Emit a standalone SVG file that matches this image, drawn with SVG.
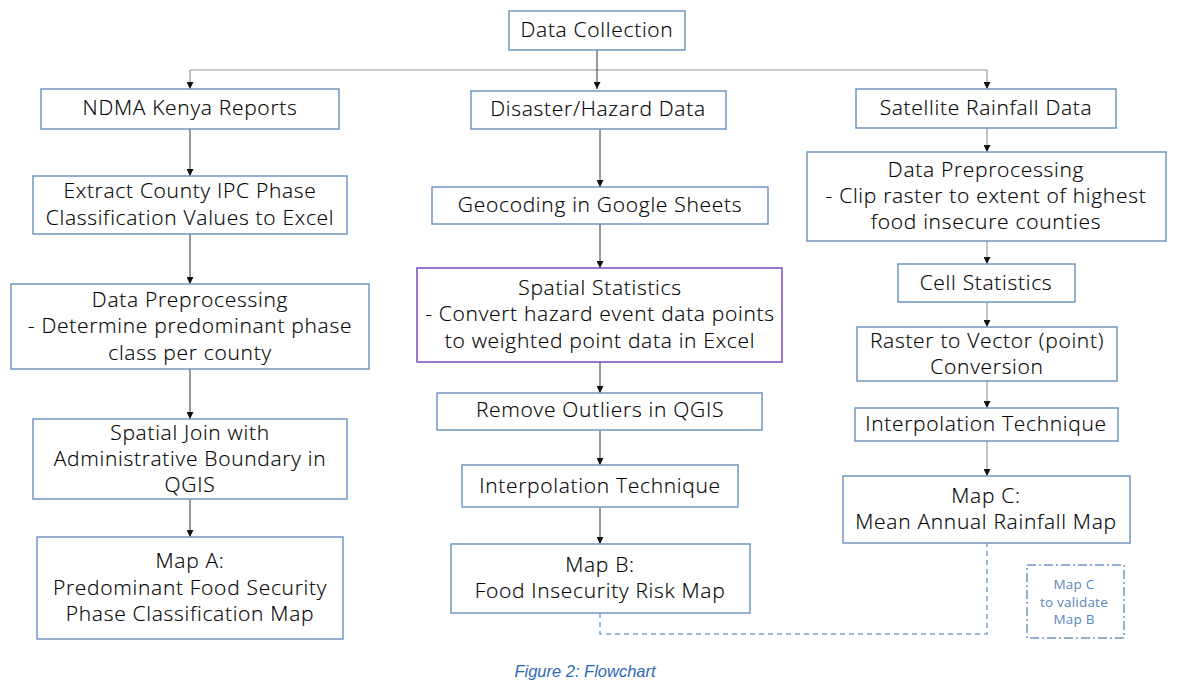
<svg xmlns="http://www.w3.org/2000/svg" width="1178" height="697" viewBox="0 0 1178 697">
<style>
.box{fill:#fff;stroke:#7097c2;stroke-width:1.5}
.pbox{fill:#fff;stroke:#7a4cc4;stroke-width:1.5}
.t{font-family:"Open Sans",Lato,"Liberation Sans",sans-serif;font-weight:300;font-size:21px;letter-spacing:0.7px;fill:#000;stroke:#000;stroke-width:0.15px;text-anchor:middle}
.c{fill:none;stroke:#333;stroke-width:1}
.cg{fill:none;stroke:#999;stroke-width:1.2}
.dash{fill:none;stroke:#7aa6d6;stroke-width:1.5;stroke-dasharray:5,4}
</style>
<defs>
<marker id="ah" viewBox="0 0 10 10" refX="10" refY="5" markerWidth="7" markerHeight="7" markerUnits="userSpaceOnUse" orient="auto">
<path d="M0,0 L10,5 L0,10 z" fill="#111"/>
</marker>
</defs>
<rect width="1178" height="697" fill="#fff"/>
<g id="connectors">
<line class="cg" x1="190" y1="70" x2="987" y2="70"/>
<line class="c" x1="597" y1="50" x2="597" y2="89" marker-end="url(#ah)"/>
<line class="cg" x1="190" y1="70" x2="190" y2="89" marker-end="url(#ah)"/>
<line class="cg" x1="987" y1="70" x2="987" y2="89" marker-end="url(#ah)"/>
<line class="c" x1="190" y1="129" x2="190" y2="176" marker-end="url(#ah)"/>
<line class="c" x1="190" y1="234" x2="190" y2="284" marker-end="url(#ah)"/>
<line class="c" x1="190" y1="369" x2="190" y2="419" marker-end="url(#ah)"/>
<line class="c" x1="190" y1="499" x2="190" y2="537" marker-end="url(#ah)"/>
<line class="c" x1="600" y1="129" x2="600" y2="187" marker-end="url(#ah)"/>
<line class="c" x1="600" y1="224" x2="600" y2="268" marker-end="url(#ah)"/>
<line class="c" x1="600" y1="362" x2="600" y2="393" marker-end="url(#ah)"/>
<line class="c" x1="600" y1="430" x2="600" y2="465" marker-end="url(#ah)"/>
<line class="c" x1="600" y1="507" x2="600" y2="544" marker-end="url(#ah)"/>
<line class="cg" x1="987" y1="128" x2="987" y2="152" marker-end="url(#ah)"/>
<line class="cg" x1="987" y1="241" x2="987" y2="264" marker-end="url(#ah)"/>
<line class="cg" x1="987" y1="302" x2="987" y2="327" marker-end="url(#ah)"/>
<line class="cg" x1="987" y1="381" x2="987" y2="408" marker-end="url(#ah)"/>
<line class="cg" x1="987" y1="441" x2="987" y2="476" marker-end="url(#ah)"/>
<path class="dash" d="M600,613 V634 H987 V543"/>
</g>
<g id="data-collection"><rect class="box" x="509" y="11" width="176" height="39"/><text class="t" x="597" y="37">Data Collection</text></g>
<g id="ndma"><rect class="box" x="41" y="89" width="298" height="40"/><text class="t" x="190" y="115">NDMA Kenya Reports</text></g>
<g id="extract"><rect class="box" x="33" y="176" width="314" height="58"/><text class="t" x="190" y="198">Extract County IPC Phase</text><text class="t" x="190" y="225">Classification Values to Excel</text></g>
<g id="prep-left"><rect class="box" x="11" y="284" width="358" height="85"/><text class="t" x="190" y="307">Data Preprocessing</text><text class="t" x="190" y="333">- Determine predominant phase</text><text class="t" x="190" y="360">class per county</text></g>
<g id="spatial-join"><rect class="box" x="33" y="419" width="314" height="80"/><text class="t" x="190" y="440">Spatial Join with</text><text class="t" x="190" y="466">Administrative Boundary in</text><text class="t" x="190" y="492">QGIS</text></g>
<g id="map-a"><rect class="box" x="37" y="537" width="306" height="102"/><text class="t" x="190" y="568">Map A:</text><text class="t" x="190" y="595">Predominant Food Security</text><text class="t" x="190" y="621">Phase Classification Map</text></g>
<g id="disaster"><rect class="box" x="471" y="91" width="255" height="38"/><text class="t" x="598" y="116">Disaster/Hazard Data</text></g>
<g id="geocoding"><rect class="box" x="432" y="187" width="336" height="37"/><text class="t" x="600" y="212">Geocoding in Google Sheets</text></g>
<g id="spatial-stats"><rect class="pbox" x="417" y="268" width="365" height="94"/><text class="t" x="600" y="295">Spatial Statistics</text><text class="t" x="600" y="321">- Convert hazard event data points</text><text class="t" x="600" y="348">to weighted point data in Excel</text></g>
<g id="outliers"><rect class="box" x="437" y="393" width="325" height="37"/><text class="t" x="600" y="417">Remove Outliers in QGIS</text></g>
<g id="interp-mid"><rect class="box" x="462" y="465" width="276" height="42"/><text class="t" x="600" y="493">Interpolation Technique</text></g>
<g id="map-b"><rect class="box" x="451" y="544" width="299" height="69"/><text class="t" x="600" y="572">Map B:</text><text class="t" x="600" y="598">Food Insecurity Risk Map</text></g>
<g id="satellite"><rect class="box" x="856" y="89" width="260" height="39"/><text class="t" x="986" y="115">Satellite Rainfall Data</text></g>
<g id="prep-right"><rect class="box" x="807" y="152" width="359" height="89"/><text class="t" x="986" y="177">Data Preprocessing</text><text class="t" x="986" y="203">- Clip raster to extent of highest</text><text class="t" x="986" y="229">food insecure counties</text></g>
<g id="cell-stats"><rect class="box" x="898" y="264" width="177" height="38"/><text class="t" x="986" y="290">Cell Statistics</text></g>
<g id="raster-vector"><rect class="box" x="857" y="327" width="260" height="54"/><text class="t" x="987" y="348">Raster to Vector (point)</text><text class="t" x="987" y="374">Conversion</text></g>
<g id="interp-right"><rect class="box" x="855" y="408" width="263" height="33"/><text class="t" x="986" y="431">Interpolation Technique</text></g>
<g id="map-c"><rect class="box" x="843" y="476" width="287" height="67"/><text class="t" x="986" y="503">Map C:</text><text class="t" x="986" y="529">Mean Annual Rainfall Map</text></g>
<g id="validate"><rect x="1027" y="565" width="97" height="73" fill="none" stroke="#7097c2" stroke-width="1.5" stroke-dasharray="9,3,2,3"/><text font-family="'Open Sans',Lato,'Liberation Sans',sans-serif" font-size="13.5" letter-spacing="0.2" fill="#5a86c0" text-anchor="middle"><tspan x="1074" y="589">Map C</tspan><tspan x="1074" y="607">to validate</tspan><tspan x="1074" y="624">Map B</tspan></text></g>
<text x="585" y="677" font-family="'Liberation Sans',sans-serif" font-size="16.5" font-style="italic" fill="#2e69b3" text-anchor="middle">Figure 2: Flowchart</text>
</svg>
